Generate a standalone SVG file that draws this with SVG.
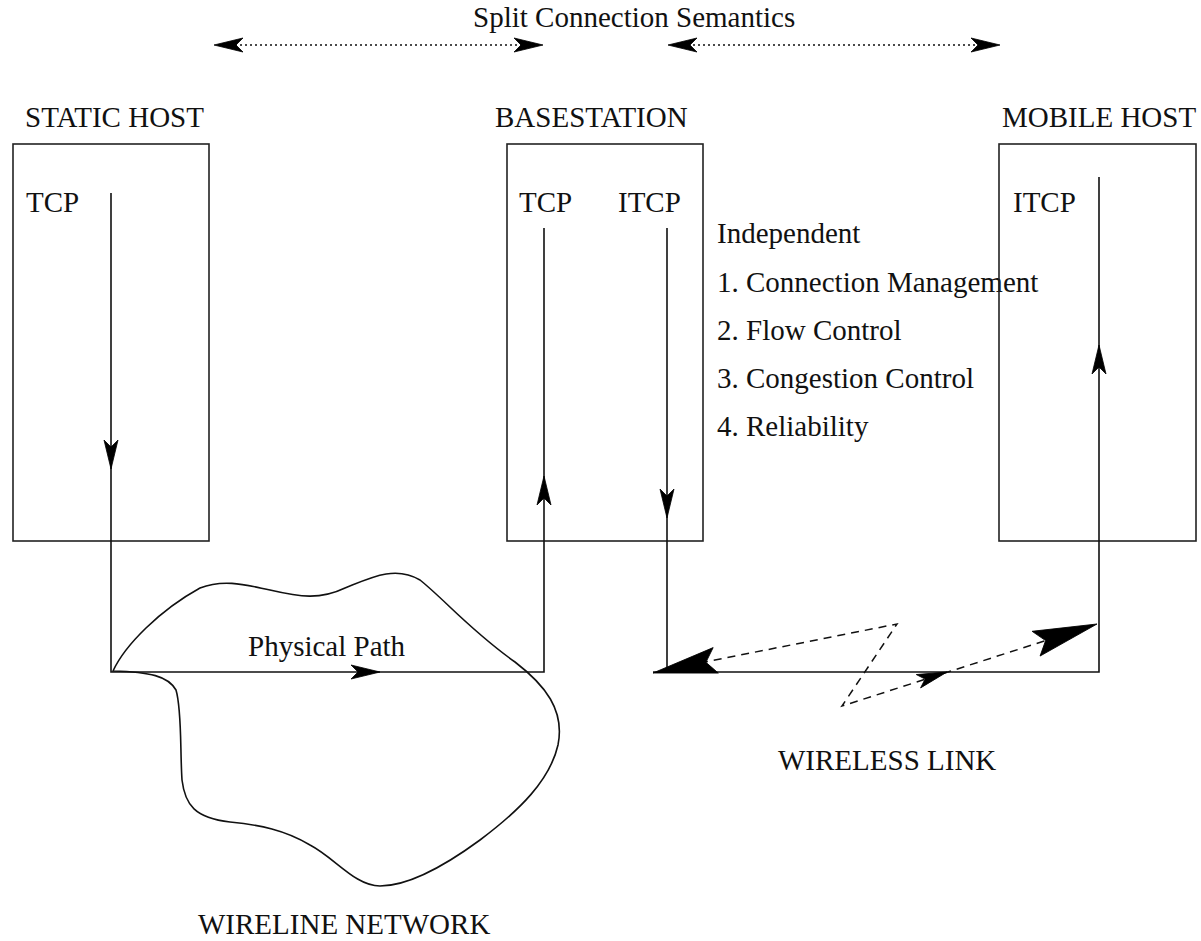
<svg xmlns="http://www.w3.org/2000/svg" xmlns:xlink="http://www.w3.org/1999/xlink" width="1201" height="941" viewBox="0 0 1201 941">
<style>
text{font-family:"Liberation Serif","Times New Roman",serif;fill:#111;font-size:29px}
.box{fill:none;stroke:#222;stroke-width:1.6}
.ln{fill:none;stroke:#111;stroke-width:1.6}
.dot{fill:none;stroke:#111;stroke-width:1.4;stroke-dasharray:2 3}
.dash{fill:none;stroke:#111;stroke-width:1.5;stroke-dasharray:8 6}
.ah{fill:#000;stroke:#000;stroke-width:0.8}
</style>
<defs>
<path id="ah" d="M0,0 L-29,-7 L-22,0 L-29,7 Z"/>
<path id="ahs" d="M0,0 L-30,-7 L-23,0 L-30,7 Z"/>
<path id="ahb" d="M0,0 L-64,-13 L-54,0 L-64,13 Z"/>
</defs>
<rect width="1201" height="941" fill="#fff"/>

<g id="title">
<text x="473" y="27" font-size="27">Split Connection Semantics</text>
</g>

<g id="static-host">
<text x="25" y="127">STATIC HOST</text>
<rect class="box" x="13" y="144" width="196" height="397"/>
<text x="26" y="212">TCP</text>
</g>

<g id="basestation">
<text x="495" y="127">BASESTATION</text>
<rect class="box" x="507" y="144" width="196" height="397"/>
<text x="519" y="212">TCP</text>
<text x="618" y="212">ITCP</text>
</g>

<g id="independent-list">
<text x="717" y="243">Independent</text>
<text x="717" y="292">1. Connection Management</text>
<text x="717" y="340">2. Flow Control</text>
<text x="717" y="388">3. Congestion Control</text>
<text x="717" y="436">4. Reliability</text>
</g>

<g id="mobile-host">
<text x="1002" y="127">MOBILE HOST</text>
<rect class="box" x="999" y="144" width="197" height="397"/>
<text x="1013" y="212">ITCP</text>
</g>

<g id="wireline-network">
<path class="ln" d="M113,671 C125,645 160,610 200,588 C225,578 250,586 270,590 C300,597 320,600 345,588 C370,578 395,565 420,580 C445,600 470,630 515,662 C545,685 565,710 558,745 C550,780 520,810 480,840 C450,862 412,886 380,886 C355,886 335,858 310,845 C285,830 260,825 230,822 C195,818 185,805 182,780 C180,750 182,710 176,690 C168,676 150,672 113,671 Z"/>
<text x="198" y="934" font-size="27">WIRELINE NETWORK</text>
</g>

<g id="wireless-link">
<text x="778" y="770">WIRELESS LINK</text>
</g>

<g id="connectors">
<path class="dot" d="M230,45 H528"/>
<path class="dot" d="M683,45 H985"/>
<use href="#ah" class="ah" transform="translate(214,45) rotate(180)"/>
<use href="#ah" class="ah" transform="translate(543,45)"/>
<use href="#ah" class="ah" transform="translate(668,45) rotate(180)"/>
<use href="#ah" class="ah" transform="translate(1000,45)"/>

<path class="ln" d="M111,193 V672 H544 V228"/>
<use href="#ah" class="ah" transform="translate(111,469) rotate(90)"/>
<use href="#ah" class="ah" transform="translate(380,672)"/>
<text x="248" y="656">Physical Path</text>
<use href="#ah" class="ah" transform="translate(544,476) rotate(-90)"/>

<path class="ln" d="M667,228 V672 M653,672 H1099 V177"/>
<use href="#ah" class="ah" transform="translate(667,518) rotate(90)"/>
<use href="#ah" class="ah" transform="translate(1099,345) rotate(-90)"/>

<path class="dash" d="M700,663 L897,624 L842,706 L1060,636"/>
<use href="#ahb" class="ah" transform="translate(653,673) rotate(168.6)"/>
<use href="#ahs" class="ah" transform="translate(947,672) rotate(-17.9)"/>
<use href="#ahb" class="ah" transform="translate(1097,624) rotate(-17.9)"/>
</g>
</svg>
